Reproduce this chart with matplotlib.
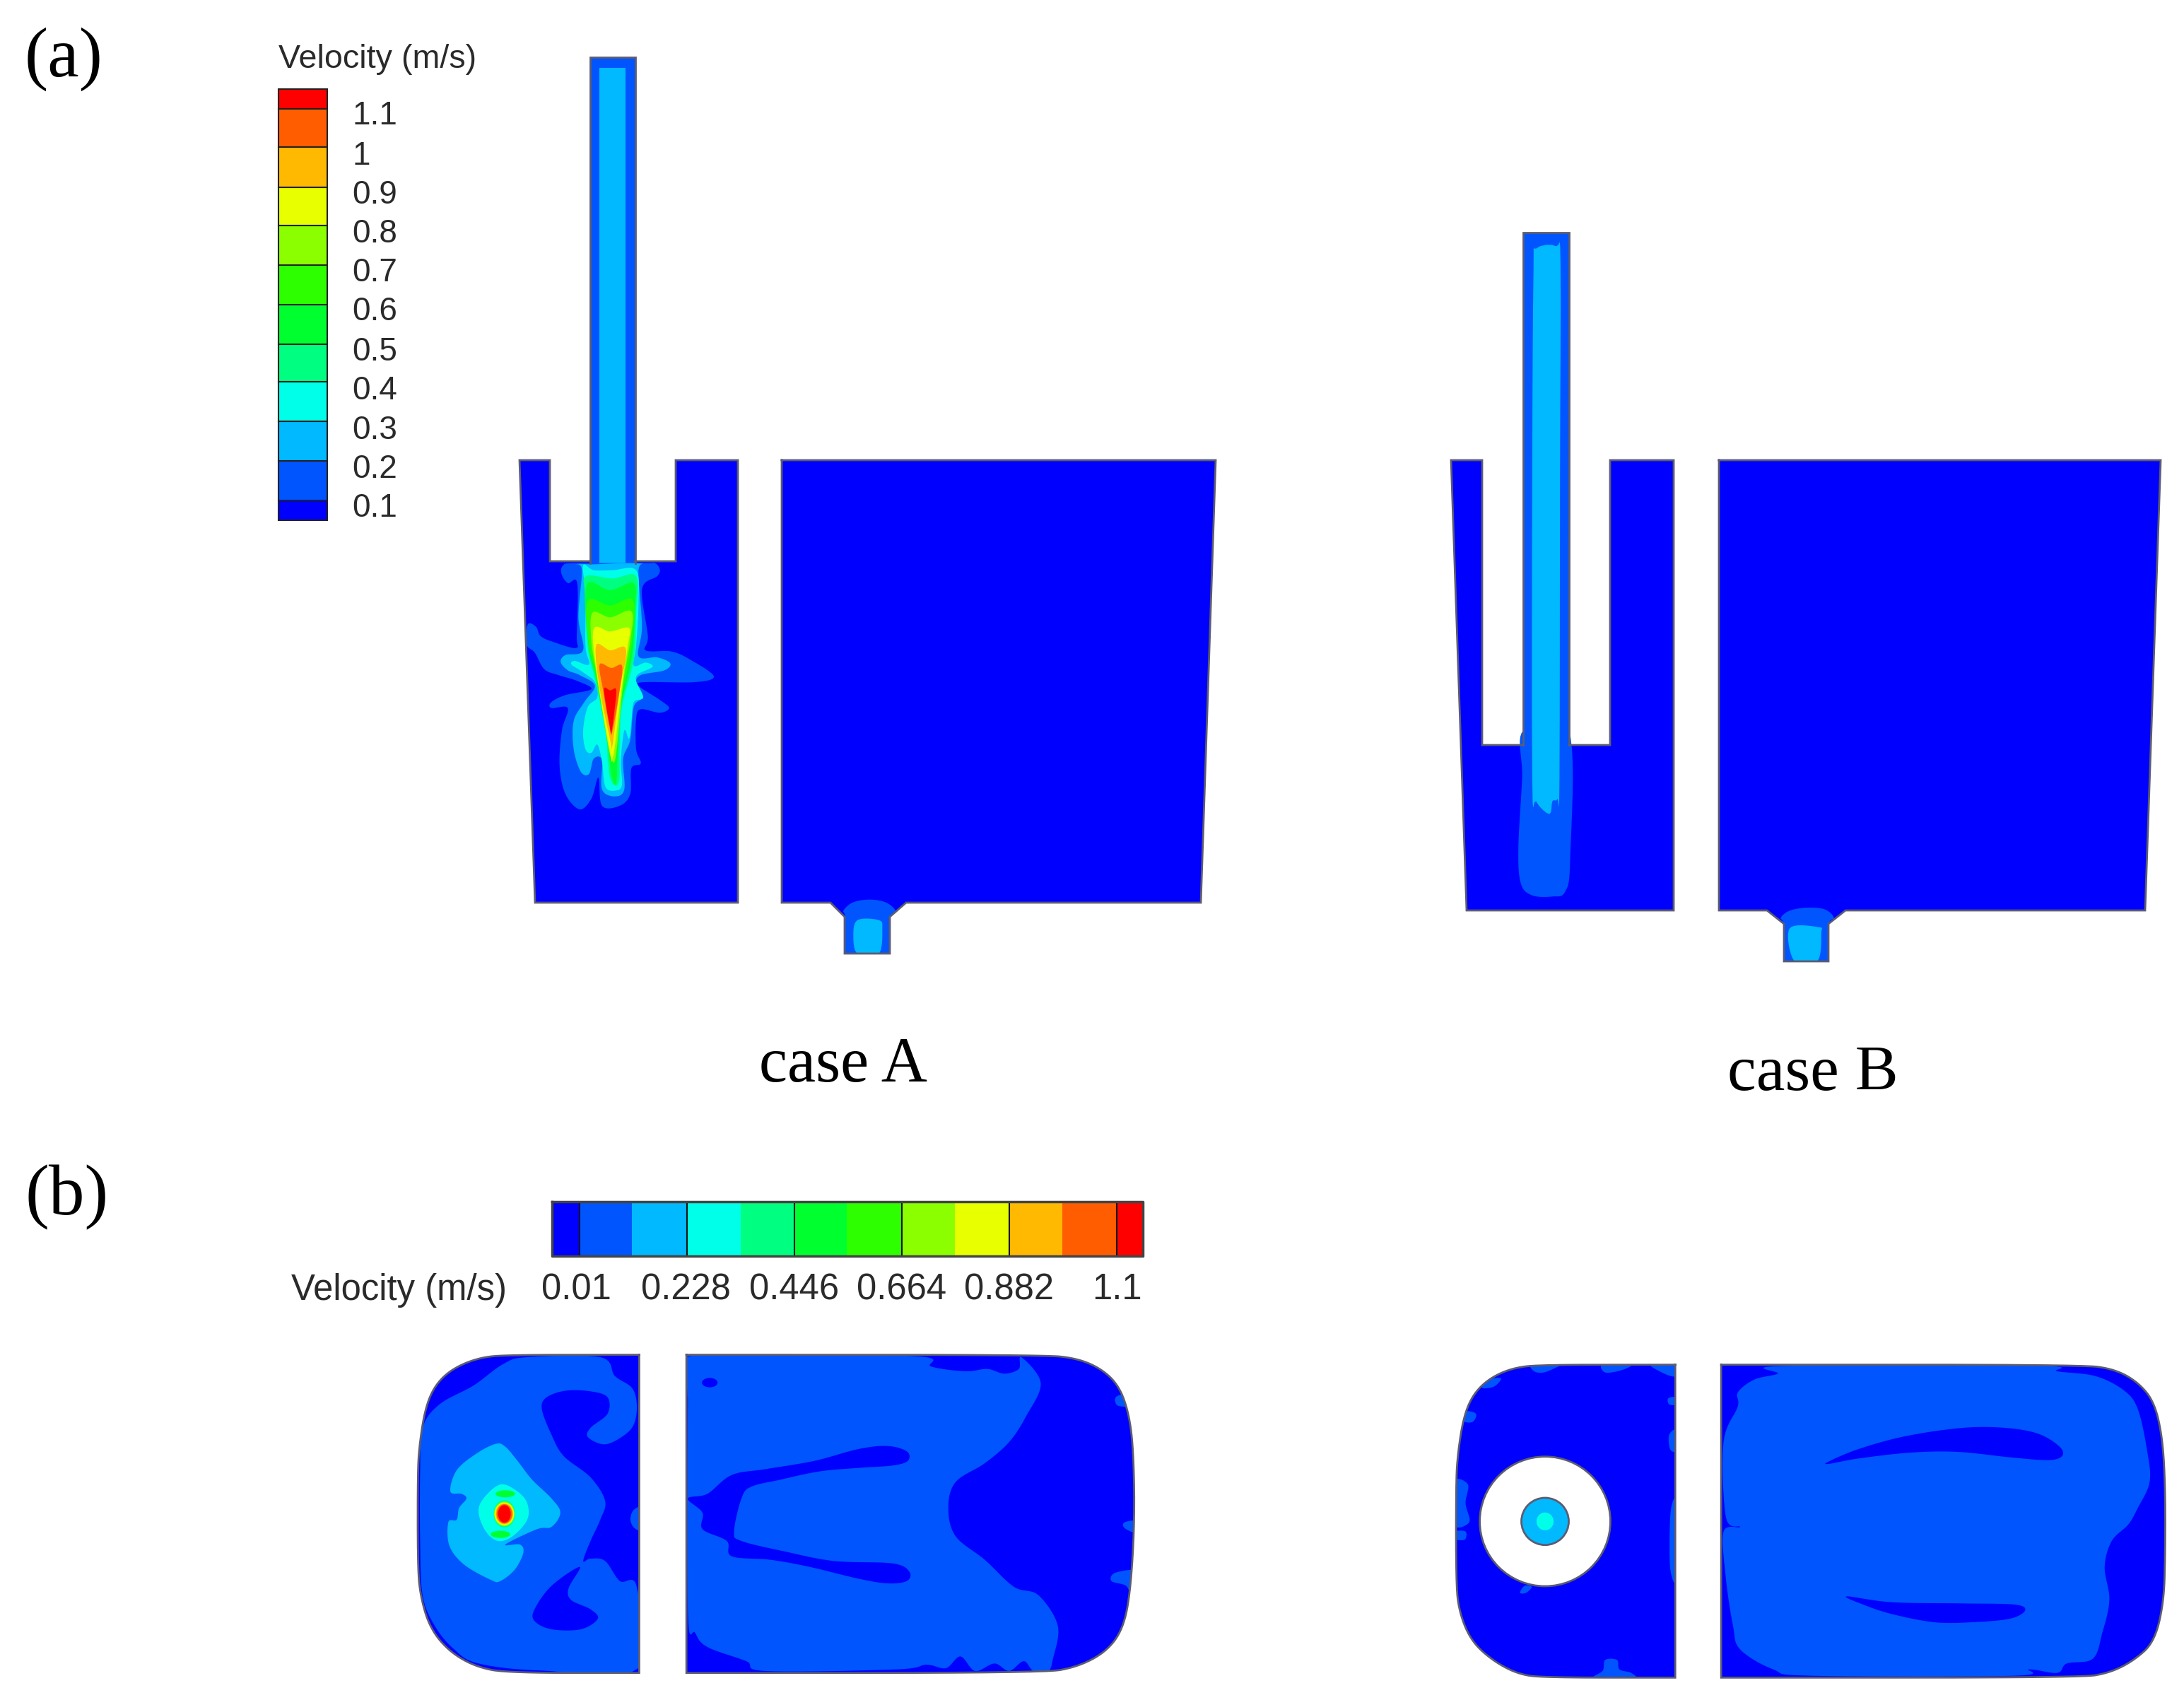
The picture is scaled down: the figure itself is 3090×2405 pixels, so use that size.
# CFD velocity contours for tundish case A / case B, redrawn by hand
import matplotlib
matplotlib.use('Agg')
import matplotlib.pyplot as plt
import numpy as np
from matplotlib.patches import Polygon, Ellipse

plt.rcParams['font.family'] = ['Liberation Sans', 'DejaVu Sans']

# contour band colours, low to high
band_colors = ['#0000ff', '#0055ff', '#00b9ff', '#00ffe8', '#00ff80', '#00ff2e',
               '#2eff00', '#8bff00', '#e8ff00', '#ffb900', '#ff5d00', '#ff0000']
edge_color = '#5c5c72'
text_color = '#2a2a2a'

# legend (a)
legend_a_edges = [736, 708, 652, 596, 540, 487, 431, 375, 319, 265, 208, 154, 126]
legend_a_labels = ['0.1', '0.2', '0.3', '0.4', '0.5', '0.6', '0.7', '0.8', '0.9', '1', '1.1']
legend_a_label_y = [719, 664, 609, 553, 498, 441, 386, 331, 276, 221, 164]

# legend (b)
legend_b_edges = [781, 820, 894, 972, 1048, 1124, 1198, 1276, 1351, 1428, 1503, 1580, 1617]
legend_b_ticks = [820, 972, 1124, 1276, 1428, 1580]
legend_b_labels = ['0.01', '0.228', '0.446', '0.664', '0.882', '1.1']
legend_b_label_x = [815, 970, 1124, 1276, 1428, 1580]

# case A side view, picture pixels
tank_a_left = [(835, 794), (778, 794), (778, 651), (735, 651), (757, 1277), (1044, 1277),
               (1044, 651), (956, 651), (956, 794), (898, 794)]
tank_a_right = [(1106, 651), (1720, 651), (1699, 1277), (1282, 1277), (1259, 1297), (1259, 1349),
                (1195, 1349), (1195, 1297), (1175, 1277), (1106, 1277)]
tube_a = [(835, 797), (835, 81), (899, 81), (899, 797)]
tube_a_core = [(848, 805), (848, 96), (885, 96), (885, 805)]

# jet bands of case A: crop coordinates (700,700), 3x
jet_a = {
    1: [(340, 290), (290, 300), (283, 335), (310, 375), (350, 375), (348, 600), (345, 650), (250, 625),
        (195, 600), (175, 560), (140, 550), (135, 635), (170, 670), (210, 740), (270, 765), (350, 790),
        (410, 825), (300, 850), (240, 880), (240, 905), (310, 905), (285, 1000), (275, 1150), (300, 1270),
        (360, 1335), (410, 1290), (440, 1200), (455, 1320), (530, 1320), (575, 1270), (580, 1160),
        (620, 1140), (600, 1080), (600, 950), (620, 910), (700, 925), (740, 905), (700, 870), (610, 810),
        (640, 795), (850, 795), (930, 770), (830, 700), (750, 665), (640, 660), (650, 600), (625, 400),
        (690, 345), (700, 315), (680, 290), (640, 290)],
    2: [(345, 295), (370, 320), (355, 520), (375, 660), (300, 680), (280, 710), (310, 745), (360, 765),
        (425, 810), (380, 880), (335, 960), (335, 1080), (365, 1175), (400, 1185), (420, 1120), (455, 1125),
        (455, 1250), (510, 1280), (550, 1250), (545, 1120), (575, 1040), (590, 900), (625, 860), (600, 800),
        (620, 765), (720, 745), (745, 715), (690, 690), (610, 685), (625, 560), (610, 320), (640, 295),
        (550, 290), (425, 295)],
    3: [(375, 300), (385, 420), (385, 640), (400, 720), (340, 705), (325, 720), (370, 750), (425, 795),
        (435, 860), (395, 900), (375, 1000), (385, 1080), (410, 1095), (435, 1060), (455, 1130), (470, 1240),
        (515, 1255), (540, 1230), (535, 1130), (550, 1000), (570, 1035), (580, 960), (590, 880), (630, 860),
        (600, 790), (610, 760), (670, 730), (640, 712), (590, 725), (600, 640), (610, 460), (600, 320),
        (500, 320), (420, 320)],
    4: [(388, 345), (382, 420), (395, 650), (425, 780), (470, 1000), (480, 1130), (490, 1205), (515, 1235),
        (530, 1200), (530, 1080), (540, 900), (590, 700), (600, 500), (600, 345), (500, 355)],
    5: [(390, 382), (490, 405), (590, 375), (595, 500), (580, 700), (535, 900), (522, 1090), (515, 1225),
        (495, 1190), (478, 1050), (430, 780), (398, 640)],
    6: [(395, 450), (490, 470), (585, 445), (585, 600), (560, 760), (530, 900), (515, 1115), (495, 1120),
        (470, 1000), (430, 760), (400, 640)],
    7: [(415, 500), (490, 520), (580, 495), (575, 620), (545, 800), (515, 1100), (495, 1120), (470, 1000),
        (432, 760), (410, 620)],
    8: [(420, 570), (490, 580), (570, 565), (565, 640), (540, 810), (512, 1050), (500, 1115), (490, 1100),
        (432, 750)],
    9: [(430, 640), (490, 660), (550, 645), (555, 700), (530, 830), (500, 1060), (490, 1040), (445, 820)],
    10: [(445, 720), (495, 735), (540, 725), (530, 830), (500, 1000), (490, 1000), (460, 830)],
    11: [(465, 820), (490, 830), (515, 825), (510, 900), (495, 1010), (488, 980), (470, 880)],
}

# nozzle of case A: crop (1150,1250), 3x
nozzle_a_1 = [(130, 115), (170, 80), (240, 68), (310, 80), (350, 115), (330, 145), (328, 298), (142, 298), (138, 145)]
nozzle_a_2 = [(190, 155), (280, 155), (295, 190), (280, 298), (190, 298), (172, 220)]

# case B side view
tank_b_left = [(2155, 1054), (2097, 1054), (2097, 651), (2053, 651), (2075, 1288), (2368, 1288),
               (2368, 651), (2278, 651), (2278, 1054), (2220, 1054)]
tank_b_right = [(2432, 651), (3057, 651), (3035, 1288), (2611, 1288), (2587, 1307), (2587, 1360),
                (2524, 1360), (2524, 1307), (2500, 1288), (2432, 1288)]
tube_b = [(2155, 1054), (2155, 329), (2220, 329), (2220, 1054)]
# crop (2100,1000), x 2.8, y 3
jet_b_1 = [(155, 100), (150, 300), (135, 600), (145, 750), (190, 800), (270, 805), (320, 785), (340, 650), (335, 100)]
jet_b_2 = [(205, -1945), (285, -1955), (302, -1880), (300, -1000), (298, 300), (290, 390), (270, 400), (258, 455),
           (205, 400), (190, 300), (190, -1000), (195, -1850)]
nozzle_b_1 = [(1175, 895), (1210, 865), (1280, 852), (1350, 860), (1385, 895), (1365, 925), (1365, 1080),
              (1187, 1080), (1185, 925)]
nozzle_b_2 = [(1210, 940), (1325, 935), (1335, 960), (1320, 1078), (1228, 1078)]

# case A section: crop (560,1880), x 1.452, y 3
sec_a_left = [(500, 110), (230, 110), (170, 122), (115, 170), (80, 240), (60, 340), (48, 500), (45, 620), (45, 1000),
              (50, 1130), (70, 1270), (110, 1370), (165, 1435), (230, 1460), (500, 1460)]
sec_a_right = [(597, 110), (1330, 110), (1400, 125), (1450, 170), (1485, 240), (1505, 350), (1515, 500), (1518, 800),
               (1510, 1100), (1495, 1270), (1460, 1370), (1400, 1435), (1330, 1460), (597, 1460)]
sec_a_left_low = [(55, 420), (90, 320), (160, 240), (220, 150), (270, 120), (420, 120), (450, 200), (485, 250),
                  (495, 320), (490, 400), (470, 450), (430, 490), (395, 460), (400, 420), (435, 360), (435, 290),
                  (400, 265), (350, 262), (310, 290), (300, 340), (320, 450), (345, 540), (400, 630), (430, 730),
                  (420, 810), (400, 900), (385, 985), (400, 975), (430, 985), (460, 1070), (495, 1095), (498, 1440),
                  (300, 1450), (170, 1420), (120, 1360), (80, 1260), (55, 1130), (50, 900), (50, 600)]
sec_a_left_hole = [(378, 1010), (320, 1090), (285, 1190), (285, 1240), (320, 1275), (380, 1275), (415, 1230),
                   (400, 1190), (360, 1150), (355, 1100)]
sec_a_left_mid = [(205, 488), (165, 530), (125, 600), (112, 690), (135, 700), (145, 720), (130, 760), (125, 810),
                  (108, 820), (110, 920), (140, 1000), (195, 1065), (215, 1070), (245, 1020), (262, 950), (255, 915),
                  (225, 915), (290, 850), (320, 840), (338, 780), (320, 720), (280, 640), (250, 560), (225, 500)]
sec_a_left_ring = [(215, 660), (180, 720), (170, 780), (185, 860), (210, 900), (240, 880), (270, 810), (270, 740), (250, 690)]
# centre u, centre v, radius u, radius v, band
sec_a_spots = [(225, 700, 20, 15, 5), (215, 872, 20, 15, 5), (223, 785, 22, 58, 4), (223, 785, 21, 52, 7),
               (223, 785, 20, 48, 8), (223, 785, 18, 44, 9), (223, 785, 16, 41, 10), (223, 785, 13, 37, 11)]
sec_a_right_low = [(605, 115), (1060, 115), (1100, 160), (1170, 180), (1215, 170), (1250, 190), (1280, 170), (1285, 120),
                   (1325, 230), (1295, 370), (1260, 480), (1210, 570), (1150, 650), (1135, 760), (1150, 880),
                   (1210, 980), (1270, 1095), (1320, 1130), (1360, 1260), (1350, 1400), (1340, 1452), (1310, 1452),
                   (1290, 1410), (1260, 1452), (1230, 1420), (1190, 1452), (1160, 1390), (1130, 1440), (1090, 1425),
                   (1030, 1445), (760, 1452), (720, 1410), (640, 1350), (615, 1290), (600, 1200), (600, 300)]
sec_a_v_arm = [(600, 720), (640, 700), (690, 620), (760, 595), (860, 560), (950, 510), (1010, 497), (1050, 520),
               (1052, 560), (1020, 580), (950, 590), (870, 605), (790, 640), (730, 670), (710, 720), (695, 860),
               (710, 900), (800, 945), (900, 985), (1020, 995), (1055, 1030), (1050, 1070), (1010, 1080), (950, 1060),
               (850, 1010), (770, 980), (690, 965), (680, 900), (630, 850), (630, 780)]
sec_a_dark_specks = [(645, 228, 16, 20)]
sec_a_edge_blobs = [[(1525, 1030), (1478, 1035), (1470, 1070), (1500, 1090), (1510, 1130), (1525, 1130)],
                    [(1525, 270), (1482, 285), (1480, 320), (1495, 330), (1525, 330)],
                    [(1525, 815), (1498, 820), (1495, 840), (1510, 860), (1525, 860)]]
sec_a_left_edge_blobs = [[(505, 760), (488, 770), (482, 810), (490, 845), (505, 850)]]

# case B section: crop (2040,1900), x 1.493, y 3
sec_b_left = [(493, 92), (210, 92), (150, 105), (100, 150), (65, 220), (45, 320), (33, 480), (30, 600), (30, 1000),
              (35, 1130), (60, 1260), (105, 1345), (160, 1405), (215, 1420), (493, 1420)]
sec_b_right = [(590, 92), (1350, 92), (1420, 110), (1470, 165), (1505, 250), (1522, 400), (1528, 600), (1528, 900),
               (1525, 1100), (1505, 1270), (1460, 1350), (1410, 1400), (1350, 1420), (590, 1420)]
sec_b_right_low = [(720, 97), (1260, 97), (1300, 120), (1380, 140), (1440, 200), (1470, 280), (1490, 460), (1495, 590),
                   (1470, 700), (1450, 770), (1415, 840), (1400, 950), (1410, 1090), (1395, 1230), (1375, 1340),
                   (1320, 1360), (1300, 1400), (1240, 1385), (1210, 1412), (780, 1412), (700, 1385), (630, 1300),
                   (615, 1200), (600, 1000), (595, 800), (630, 780), (600, 740), (595, 420), (625, 270), (625, 210),
                   (660, 155), (710, 130)]
sec_b_arc_top = [(815, 505), (880, 450), (980, 395), (1100, 360), (1190, 360), (1260, 385), (1305, 440), (1310, 480),
                 (1280, 497), (1200, 485), (1090, 462), (990, 465), (880, 490), (820, 512)]
sec_b_arc_low = [(855, 1075), (950, 1100), (1100, 1105), (1210, 1110), (1232, 1135), (1200, 1170), (1120, 1185),
                 (1040, 1185), (950, 1150), (890, 1110)]
sec_b_left_blobs = [[(190, 90), (195, 120), (215, 125), (240, 105), (250, 90)],
                    [(340, 90), (345, 125), (380, 115), (400, 90)],
                    [(440, 90), (470, 130), (495, 140), (495, 90)],
                    [(25, 590), (55, 600), (50, 680), (58, 760), (25, 770)],
                    [(48, 290), (72, 300), (65, 335), (45, 330)],
                    [(25, 800), (50, 800), (48, 835), (25, 830)],
                    [(165, 1060), (175, 1030), (190, 1035), (178, 1060)],
                    [(345, 1345), (370, 1345), (375, 1385), (400, 1400), (405, 1425), (320, 1425), (340, 1390)],
                    [(495, 230), (478, 235), (480, 260), (495, 260)],
                    [(495, 370), (480, 390), (482, 450), (495, 455)],
                    [(495, 680), (483, 720), (482, 950), (495, 1000)],
                    [(30, 1100), (60, 1260), (110, 1345), (80, 1350), (25, 1250)],
                    [(100, 155), (125, 150), (110, 185), (85, 190)]]
sec_b_hole = (218, 757, 138, 275)
sec_b_pipe = (218, 757, 50, 100)
sec_b_pipe_core = (218, 757, 18, 38)


def to_px(pts, x0, y0, sx, sy):
    # crop coordinates back to picture pixels
    return [(x0 + u / sx, y0 + v / sy) for u, v in pts]


def smooth(pts, n=10):
    p = np.array(pts, dtype=float)
    p = np.vstack([p[-1], p, p[0], p[1]])
    out = []
    for i in range(1, len(p) - 2):
        for t in np.linspace(0, 1, n, endpoint=False):
            out.append(0.5 * (2 * p[i] + (p[i + 1] - p[i - 1]) * t
                              + (2 * p[i - 1] - 5 * p[i] + 4 * p[i + 1] - p[i + 2]) * t ** 2
                              + (3 * p[i] - p[i - 1] - 3 * p[i + 1] + p[i + 2]) * t ** 3))
    return np.array(out)


def round_corners(pts, rounds=4):
    # corner cutting for the section outlines, ends stay where they are
    p = np.array(pts, dtype=float)
    for _ in range(rounds):
        q = [p[0]]
        for a, b in zip(p[:-1], p[1:]):
            q.append(0.75 * a + 0.25 * b)
            q.append(0.25 * a + 0.75 * b)
        q.append(p[-1])
        p = np.array(q)
    return p


def fill(ax, pts, band, clip=None, z=2):
    patch = Polygon(pts, closed=True, facecolor=band_colors[band], edgecolor='none', zorder=z)
    ax.add_patch(patch)
    if clip is not None:
        patch.set_clip_path(clip)
    return patch


def blob(ax, pts, band, x0, y0, sx, sy, clip=None, z=2):
    return fill(ax, smooth(to_px(pts, x0, y0, sx, sy)), band, clip, z)


def ellipse(ax, spec, band, x0, y0, sx, sy, clip=None, z=3, edge='none', face=None):
    u, v, ru, rv = spec
    patch = Ellipse((x0 + u / sx, y0 + v / sy), 2 * ru / sx, 2 * rv / sy,
                    facecolor=face if face else band_colors[band], edgecolor=edge, linewidth=2, zorder=z)
    ax.add_patch(patch)
    if clip is not None:
        patch.set_clip_path(clip)
    return patch


def outline(ax, pts, closed=False):
    xy = np.array(list(pts) + ([pts[0]] if closed else []))
    ax.plot(xy[:, 0], xy[:, 1], color=edge_color, lw=2, solid_joinstyle='miter', zorder=6)


fig = plt.figure(figsize=(30.9, 24.05), dpi=100)
ax = fig.add_axes([0, 0, 1, 1])
ax.set_xlim(0, 3090)
ax.set_ylim(2405, 0)
ax.axis('off')

# ---- case A side view
clip = fill(ax, tank_a_left, 0, z=1)
fill(ax, tube_a, 1, z=2)
fill(ax, tube_a_core, 2, z=2)
for band, pts in jet_a.items():
    blob(ax, pts, band, 700, 700, 3, 3, clip, z=2 + band * 0.01)
outline(ax, tank_a_left)
outline(ax, tube_a)

clip = fill(ax, tank_a_right, 0, z=1)
blob(ax, nozzle_a_1, 1, 1150, 1250, 3, 3, clip)
blob(ax, nozzle_a_2, 2, 1150, 1250, 3, 3, clip, z=2.1)
outline(ax, tank_a_right, closed=True)

# ---- case B side view
clip = fill(ax, tank_b_left, 0, z=1)
fill(ax, tube_b, 1, z=2)
blob(ax, jet_b_1, 1, 2100, 1000, 2.8, 3, None, z=2)
fill(ax, smooth(to_px(jet_b_2, 2100, 1000, 2.8, 3), n=4), 2, z=2.1)
outline(ax, tank_b_left)
outline(ax, tube_b)

clip = fill(ax, tank_b_right, 0, z=1)
blob(ax, nozzle_b_1, 1, 2100, 1000, 2.8, 3, clip)
blob(ax, nozzle_b_2, 2, 2100, 1000, 2.8, 3, clip, z=2.1)
outline(ax, tank_b_right, closed=True)

# ---- case A section
shape = round_corners(to_px(sec_a_left, 560, 1880, 1.452, 3))
clip = fill(ax, shape, 0, z=1)
blob(ax, sec_a_left_low, 1, 560, 1880, 1.452, 3, clip, z=2)
blob(ax, sec_a_left_hole, 0, 560, 1880, 1.452, 3, clip, z=2.1)
blob(ax, sec_a_left_mid, 2, 560, 1880, 1.452, 3, clip, z=2.2)
blob(ax, sec_a_left_ring, 3, 560, 1880, 1.452, 3, clip, z=2.3)
for u, v, ru, rv, band in sec_a_spots:
    ellipse(ax, (u, v, ru, rv), band, 560, 1880, 1.452, 3, clip)
for pts in sec_a_left_edge_blobs:
    blob(ax, pts, 1, 560, 1880, 1.452, 3, clip, z=2.1)
outline(ax, shape, closed=True)

shape = round_corners(to_px(sec_a_right, 560, 1880, 1.452, 3))
clip = fill(ax, shape, 0, z=1)
blob(ax, sec_a_right_low, 1, 560, 1880, 1.452, 3, clip, z=2)
blob(ax, sec_a_v_arm, 0, 560, 1880, 1.452, 3, clip, z=2.1)
for spec in sec_a_dark_specks:
    ellipse(ax, spec, 0, 560, 1880, 1.452, 3, clip)
for pts in sec_a_edge_blobs:
    blob(ax, pts, 1, 560, 1880, 1.452, 3, clip, z=2.1)
outline(ax, shape, closed=True)

# ---- case B section
shape = round_corners(to_px(sec_b_left, 2040, 1900, 1.493, 3))
clip = fill(ax, shape, 0, z=1)
for pts in sec_b_left_blobs:
    blob(ax, pts, 1, 2040, 1900, 1.493, 3, clip, z=2)
outline(ax, shape, closed=True)
ellipse(ax, sec_b_hole, 0, 2040, 1900, 1.493, 3, z=3, edge=edge_color, face='white')
ellipse(ax, sec_b_pipe, 2, 2040, 1900, 1.493, 3, z=4, edge=edge_color)
ellipse(ax, sec_b_pipe_core, 3, 2040, 1900, 1.493, 3, z=5)

shape = round_corners(to_px(sec_b_right, 2040, 1900, 1.493, 3))
clip = fill(ax, shape, 0, z=1)
blob(ax, sec_b_right_low, 1, 2040, 1900, 1.493, 3, clip, z=2)
blob(ax, sec_b_arc_top, 0, 2040, 1900, 1.493, 3, clip, z=2.1)
blob(ax, sec_b_arc_low, 0, 2040, 1900, 1.493, 3, clip, z=2.1)
outline(ax, shape, closed=True)

# ---- legend (a)
edges = np.array(legend_a_edges)
ax.bar([394] * len(band_colors), np.diff(edges), bottom=edges[:-1], width=69, align='edge',
       color=band_colors, edgecolor='#222222', linewidth=1.5, zorder=3)
ax.text(394, 84, 'Velocity (m/s)', fontsize=33.6, color=text_color, va='center', ha='left')
for lab, y in zip(legend_a_labels, legend_a_label_y):
    ax.text(498, y, lab, fontsize=33, color=text_color, va='center', ha='left')

# ---- legend (b)
edges = np.array(legend_b_edges)
ax.bar(edges[:-1], [77] * len(band_colors), bottom=1700, width=np.diff(edges), align='edge',
       color=band_colors, edgecolor='none', zorder=3)
ax.vlines(legend_b_ticks, 1700, 1777, color='#111111', lw=1.5, zorder=4)
ax.plot([781, 1617, 1617, 781, 781], [1700, 1700, 1777, 1777, 1700], color='#444444', lw=2.5, zorder=5)
ax.text(412, 1825, 'Velocity (m/s)', fontsize=36.6, color=text_color, va='center', ha='left')
for lab, x in zip(legend_b_labels, legend_b_label_x):
    ax.text(x, 1825, lab, fontsize=36.5, color=text_color, va='center', ha='center')

# ---- labels
serif = ['Liberation Serif', 'DejaVu Serif']
ax.text(35, 84, '(a)', fontsize=72, family=serif, color='black', va='center', ha='left')
ax.text(35, 1694, '(b)', fontsize=73, family=serif, color='black', va='center', ha='left')
ax.text(1193, 1508, 'case A', fontsize=65, family=serif, color='black', va='center', ha='center')
ax.text(2565, 1520, 'case B', fontsize=66, family=serif, color='black', va='center', ha='center')

plt.savefig('out.png', dpi=100)
